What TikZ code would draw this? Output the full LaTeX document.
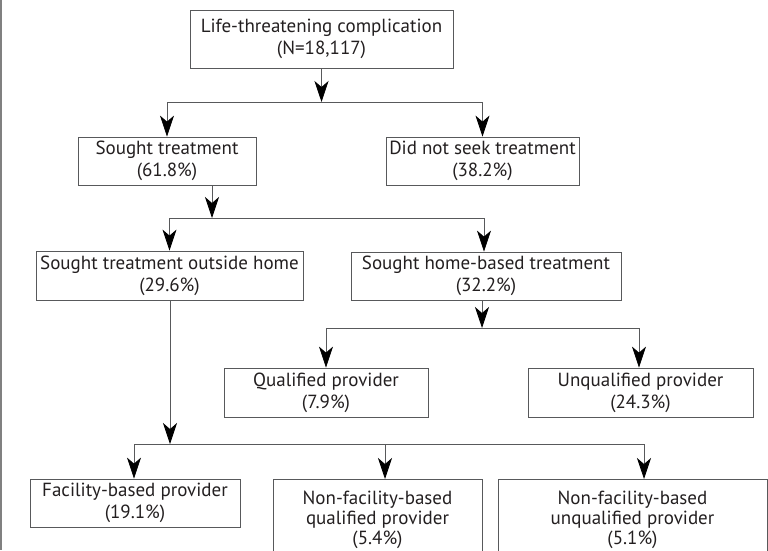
\documentclass[tikz,border=0pt]{standalone}
\usepackage{fontspec}
\setmainfont{PT Sans}
\usetikzlibrary{arrows.meta}
\definecolor{boxline}{HTML}{58595B}
\definecolor{boxtext}{HTML}{231F20}

\begin{document}
\begin{tikzpicture}[x=1pt,y=-1pt,>={Stealth[length=21pt,width=14pt,inset=6pt,color=black]},
                    line width=0.8pt]
\tikzstyle{box}=[draw=boxline,text=boxtext,align=center,inner sep=0pt]
\tikzset{font=\fontsize{19}{22}\selectfont}

        \path[use as bounding box,clip] (0,0) rectangle (768,550);
        \draw[gray,line width=1.6pt] (1,0) -- (1,550);

        \node[box,minimum width=263pt,minimum height=58pt]   (life)   at (321.5,39)  {Life-threatening complication\\(N=18,117)};

        \node[box,minimum width=178pt,minimum height=48pt]   (sought) at (167,161)   {Sought treatment\\(61.8\%)};
        \node[box,minimum width=193pt,minimum height=48pt]   (noseek) at (482.5,161) {Did not seek treatment\\(38.2\%)};

        \node[box,minimum width=267pt,minimum height=49pt]   (outside) at (169.5,275.5) {Sought treatment outside home\\(29.6\%)};
        \node[box,minimum width=270pt,minimum height=48pt]   (home)    at (486,276)     {Sought home-based treatment\\(32.2\%)};

        \node[box,minimum width=204pt,minimum height=49pt]   (qual)    at (326,392.5)   {Qualified provider\\(7.9\%)};
        \node[box,minimum width=225pt,minimum height=49pt]   (unqual)  at (640.5,392.5) {Unqualified provider\\(24.3\%)};

        \node[box,minimum width=210pt,minimum height=48pt]   (facility) at (135,503)  {Facility-based provider\\(19.1\%)};
        \node[box,minimum width=209pt,minimum height=80pt,anchor=north,font=\fontsize{19}{20}\selectfont] (nfqual)   at (377.5,479) {Non-facility-based\\qualified provider\\(5.4\%)};
        \node[box,minimum width=269pt,minimum height=80pt,anchor=north,font=\fontsize{19}{20}\selectfont] (nfunqual) at (632.5,479) {Non-facility-based\\unqualified provider\\(5.1\%)};

        \coordinate (j1) at (321.5,102);
        \coordinate (j2) at (212,218);
        \coordinate (j3) at (482,328);
        \coordinate (j4) at (170,444);

        \begin{scope}[draw=boxline]
        \draw[->] (life) -- (j1);
        \draw[->] (j1) -| (sought);
        \draw[->] (j1) -| (noseek);

        \draw[->] (sought.south -| j2) -- (j2);
        \draw[->] (j2) -| (outside);
        \draw[->] (j2) -| ([xshift=-2pt]home.north);

        \draw[->] (home.south -| j3) -- (j3);
        \draw[->] (j3) -| (qual);
        \draw[->] (j3) -| ([xshift=-1.5pt]unqual.north);

        \draw[->] (outside.south -| j4) -- (j4);
        \draw[->] (j4) -| ([xshift=-1pt]facility.north);
        \draw[->] (j4) -| ([xshift=7.5pt]nfqual.north);
        \draw[->] (j4) -| ([xshift=11.5pt]nfunqual.north);
        \end{scope}

\end{tikzpicture}
\end{document}
